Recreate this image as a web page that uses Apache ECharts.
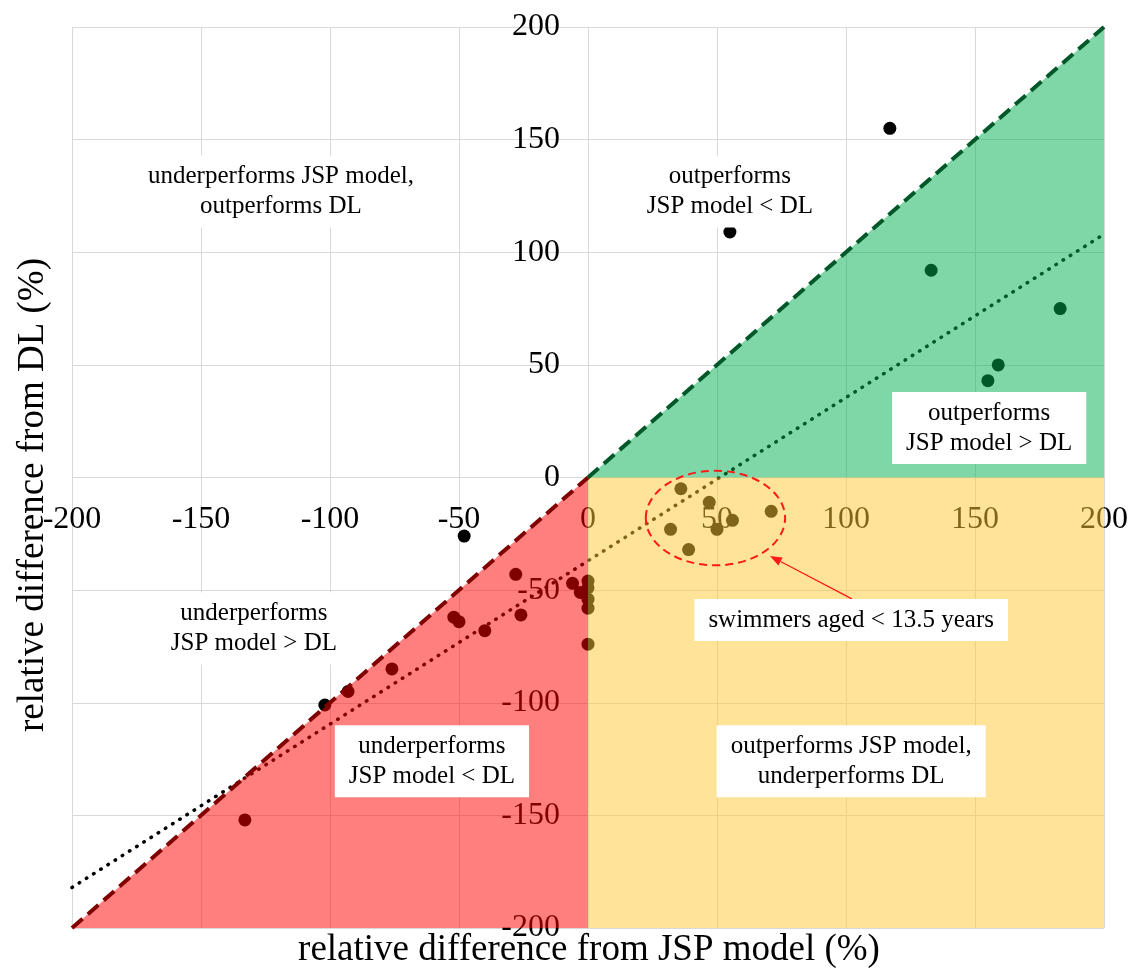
<!DOCTYPE html>
<html>
<head>
<meta charset="utf-8">
<script src="https://cdn.jsdelivr.net/npm/echarts@6/dist/echarts.min.js"></script>
<style>
  html, body { margin: 0; padding: 0; background: #ffffff; }
  #chart { width: 1134px; height: 972px; }
</style>
</head>
<body>
<div id="chart"></div>
<script>
// Relative difference of each swimmer's result from the JSP model (x) and from DL (y), in %
const jspDiff = [117, 55, 133, 183, 159, 155, -48, 36, 47, 71, 56, 50, 32, 39,
                 -28, -6, -3, 0, 0, 0, 0, 0, -26, -52, -50, -40, -76, -93, -102, -133];
const dlDiff  = [155, 109, 92, 75, 50, 43, -26, -5, -11, -15, -19, -23, -23, -32,
                 -43, -47, -51, -46, -49, -54, -58, -74, -61, -62, -64, -68, -85, -95, -101, -152];

// Axis range and tick step (both axes)
const axisMin = -200;
const axisMax = 200;
const axisStep = 50;

// Parity line (JSP model = DL), split at the origin, and linear trend line
const parityX = [-200, 0, 200];
const parityY = [-200, 0, 200];
const trendX = [-200, 200];
const trendY = [-182, 108];

// Shaded regions (drawn translucently over the points)
const greenRegion = [[0, 0], [200, 0], [200, 200]];
const redRegion = [[0, 0], [0, -200], [-200, -200]];
const yellowRegion = [[0, 0], [200, 0], [200, -200], [0, -200]];

// Region captions
const noteText = [
  'underperforms JSP model,\noutperforms DL',
  'outperforms\nJSP model < DL',
  'outperforms\nJSP model > DL',
  'underperforms\nJSP model > DL',
  'underperforms\nJSP model < DL',
  'outperforms JSP model,\nunderperforms DL',
  'swimmers aged < 13.5 years'
];
const noteX = [-119, 55, 155.5, -129.5, -60.5, 102, 102];
const noteY = [127, 127, 22, -67, -126, -126, -63.3];

// Highlighted group of young swimmers (ellipse centre and radii, in axis units)
const groupCenter = [49.4, -18];
const groupRadius = [27, 21];
const arrowFrom = [102.3, -53.9];
const arrowTo = [70.5, -34.8];

const serif = '"Liberation Serif", "Times New Roman", serif';

const regions = [
  { pts: greenRegion, color: 'rgba(0, 176, 80, 0.5)' },
  { pts: redRegion, color: 'rgba(255, 0, 0, 0.5)' },
  { pts: yellowRegion, color: 'rgba(255, 199, 52, 0.5)' }
];

// Plot rectangle; the axes cross at (0, 0) inside it
const gridBox = { left: 72, right: 30, top: 27, bottom: 44 };
const W = 1134, H = 972;
const plotW = W - gridBox.left - gridBox.right;
const plotH = H - gridBox.top - gridBox.bottom;
const zeroFrac = (0 - axisMin) / (axisMax - axisMin);

const axisCommon = {
  type: 'value',
  min: axisMin,
  max: axisMax,
  interval: axisStep,
  axisLine: { show: true, onZero: false, lineStyle: { color: '#d9d9d9', width: 1 } },
  axisTick: { show: false },
  splitLine: { show: true, lineStyle: { color: '#d9d9d9', width: 1 } },
  axisLabel: {
    showMinLabel: true,
    showMaxLabel: true,
    fontFamily: serif,
    fontSize: 32,
    color: '#000'
  }
};

const parityLine = (from, to, color) => ({
  type: 'line',
  z: 4,
  silent: true,
  showSymbol: false,
  symbol: 'none',
  lineStyle: { color: color, width: 4, type: [14, 7] },
  data: parityX.slice(from, to + 1).map((x, i) => [x, parityY[from + i]])
});

const chart = echarts.init(document.getElementById('chart'));

chart.setOption({
  animation: false,
  backgroundColor: '#ffffff',
  grid: Object.assign({ containLabel: false, outerBoundsMode: 'none' }, gridBox),
  xAxis: Object.assign({}, axisCommon, {
    position: 'bottom',
    offset: -plotH * zeroFrac,
    axisLabel: Object.assign({}, axisCommon.axisLabel, { margin: 26 })
  }),
  yAxis: Object.assign({}, axisCommon, {
    position: 'left',
    offset: -plotW * zeroFrac,
    axisLabel: Object.assign({}, axisCommon.axisLabel, { margin: 28 })
  }),
  graphic: [
    {
      type: 'text',
      x: 589, y: 950,
      style: {
        text: 'relative difference from JSP model (%)',
        font: '37px ' + serif,
        fill: '#000',
        align: 'center',
        verticalAlign: 'middle'
      }
    },
    {
      type: 'text',
      x: 33, y: 495,
      rotation: Math.PI / 2,
      style: {
        text: 'relative difference from DL (%)',
        font: '37px ' + serif,
        fill: '#000',
        align: 'center',
        verticalAlign: 'middle'
      }
    }
  ],
  series: [
    {
      name: 'swimmers',
      type: 'scatter',
      z: 2,
      symbol: 'circle',
      symbolSize: 13,
      itemStyle: { color: '#000000', opacity: 1 },
      data: jspDiff.map((x, i) => [x, dlDiff[i]])
    },
    {
      name: 'trend',
      type: 'line',
      z: 2,
      showSymbol: false,
      symbol: 'none',
      lineStyle: { color: '#000000', width: 3.5, type: [0.5, 8], cap: 'round' },
      data: trendX.map((x, i) => [x, trendY[i]])
    },
    {
      name: 'regions',
      type: 'custom',
      z: 3,
      silent: true,
      data: regions.map(r => r.pts[0]),
      renderItem: function (params, api) {
        const r = regions[params.dataIndex];
        return {
          type: 'polygon',
          shape: { points: r.pts.map(p => api.coord(p)) },
          style: { fill: r.color }
        };
      }
    },
    // parity line, shaded like the region it borders
    Object.assign({ name: 'parity (below 0)' }, parityLine(0, 1, '#800000')),
    Object.assign({ name: 'parity (above 0)' }, parityLine(1, 2, '#005828')),
    {
      name: 'group',
      type: 'custom',
      z: 4,
      silent: true,
      data: [groupCenter],
      renderItem: function (params, api) {
        const c = api.coord(groupCenter);
        const size = api.size([groupRadius[0], groupRadius[1]]);
        const a = api.coord(arrowFrom);
        const b = api.coord(arrowTo);
        const ang = Math.atan2(b[1] - a[1], b[0] - a[0]);
        const hl = 12, hw = 4.5;
        const bx = b[0] - hl * Math.cos(ang), by = b[1] - hl * Math.sin(ang);
        const head = [
          b,
          [bx + hw * Math.sin(ang), by - hw * Math.cos(ang)],
          [bx - hw * Math.sin(ang), by + hw * Math.cos(ang)]
        ];
        return {
          type: 'group',
          children: [
            {
              type: 'ellipse',
              shape: { cx: c[0], cy: c[1], rx: size[0], ry: size[1] },
              style: { fill: 'none', stroke: '#ff1a1a', lineWidth: 2, lineDash: [8, 5] }
            },
            {
              type: 'line',
              shape: { x1: a[0], y1: a[1], x2: bx, y2: by },
              style: { stroke: '#ff1a1a', lineWidth: 1.3 }
            },
            {
              type: 'polygon',
              shape: { points: head },
              style: { fill: '#ff1a1a' }
            }
          ]
        };
      }
    },
    {
      name: 'notes',
      type: 'custom',
      z: 5,
      silent: true,
      data: noteX.map((x, i) => [x, noteY[i]]),
      renderItem: function (params, api) {
        const i = params.dataIndex;
        const c = api.coord([noteX[i], noteY[i]]);
        return {
          type: 'text',
          x: c[0],
          y: c[1],
          style: {
            text: noteText[i],
            fontFamily: serif,
            fontSize: 25,
            lineHeight: 30,
            fill: '#000',
            align: 'center',
            verticalAlign: 'middle',
            backgroundColor: '#ffffff',
            padding: [6, 14]
          }
        };
      }
    }
  ]
});
</script>
</body>
</html>
